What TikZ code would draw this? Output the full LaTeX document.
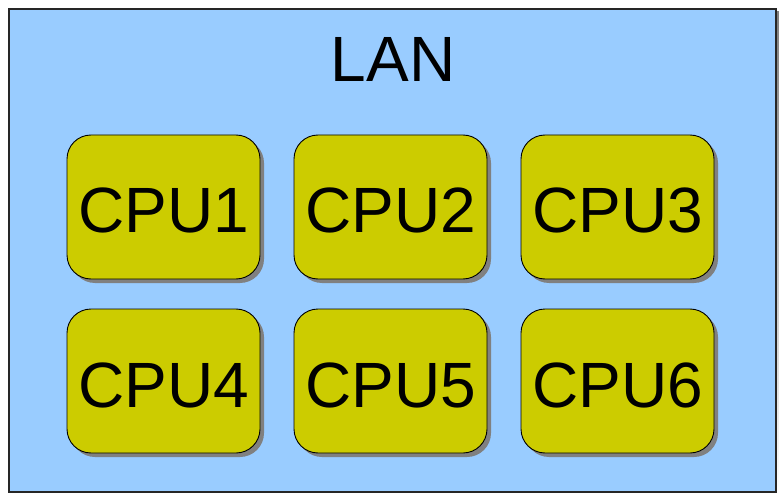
\documentclass[tikz,border=0pt]{standalone}
\usepackage{fontspec}
\setmainfont{Liberation Sans}
\definecolor{lanblue}{RGB}{153,204,255}
\definecolor{cpuyellow}{RGB}{204,204,0}
\definecolor{shade}{RGB}{128,128,128}
\begin{document}
\begin{tikzpicture}[x=1pt,y=-1pt,
  lanframe/.style={fill=lanblue,draw=black!85,line width=1.2pt},
  cpubox/.style={fill=cpuyellow,draw=black,line width=0.9pt,rounded corners=24pt},
  cpushadow/.style={fill=shade,draw=none,rounded corners=24pt},
  biglabel/.style={font=\fontsize{64}{64}\selectfont,anchor=base,inner sep=0pt}]
\useasboundingbox (0,0) rectangle (779,497);
% LAN frame with its drop shadow
\fill[shade] (12,12) rectangle (779,495);
\draw[lanframe] (9,9) rectangle (776,492);
\node[biglabel] (lan) at (393,82) {LAN};
% CPU boxes: two rows of three
\foreach \name/\x/\y in {CPU1/67/135, CPU2/294/135, CPU3/521/135,
                         CPU4/67/309, CPU5/294/309, CPU6/521/309} {
  \fill[cpushadow] (\x+4,\y+4) rectangle ++(193,144);
  \draw[cpubox] (\x,\y) rectangle ++(193,144);
  \node[biglabel] (\name) at (\x+96.5,\y+98) {\name};
}
\end{tikzpicture}
\end{document}
